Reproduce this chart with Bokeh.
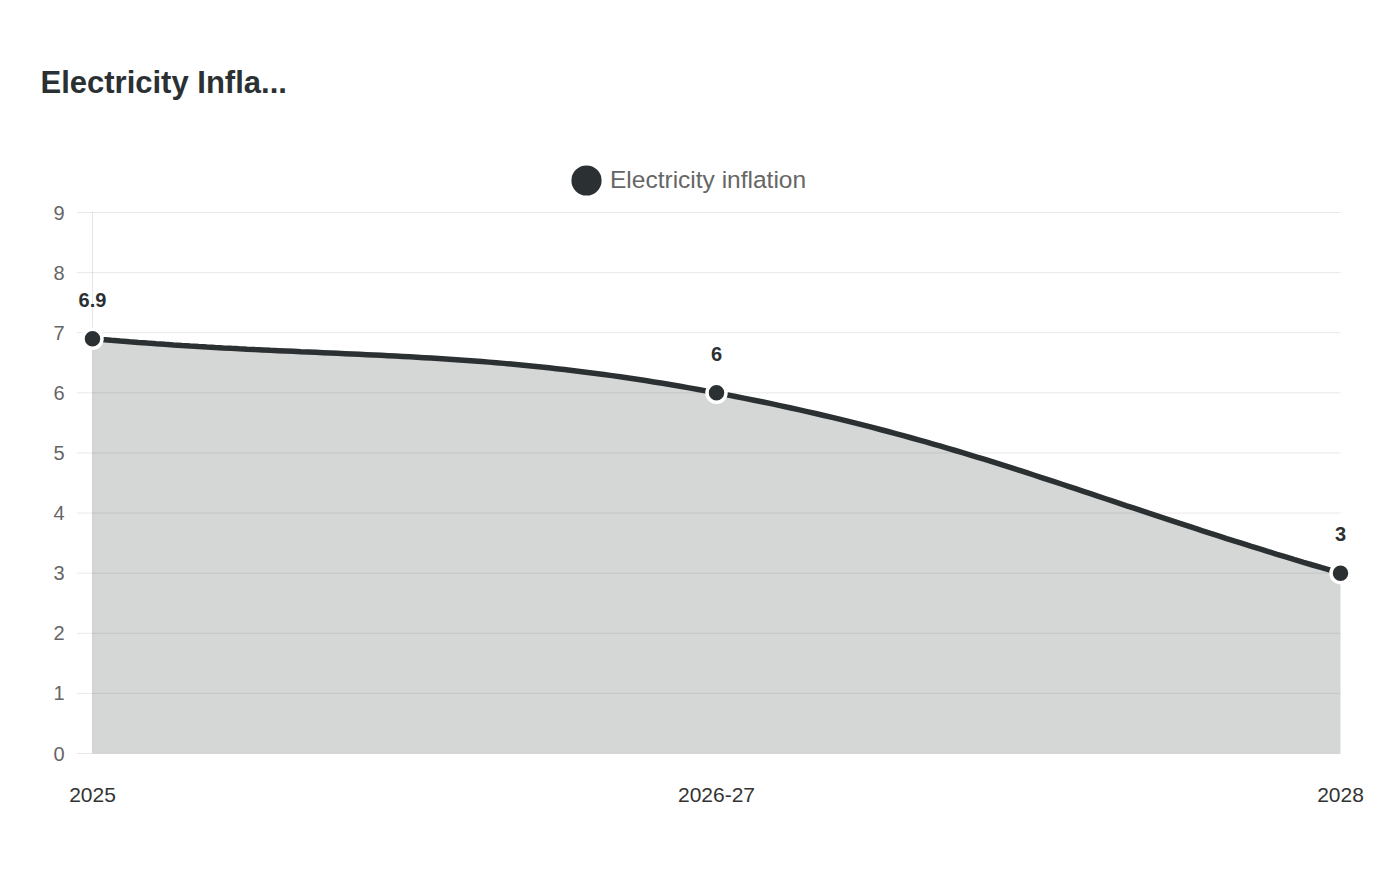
import numpy as np
from bokeh.plotting import figure
from bokeh.models import Range1d, FixedTicker, Legend, LegendItem
from bokeh.embed import file_html
from bokeh.resources import INLINE
from bokeh.core.properties import value

# ---- data ----
title_text = "Electricity Infla..."
series_name = "Electricity inflation"
categories = ["2025", "2026-27", "2028"]
values = [6.9, 6.0, 3.0]
value_labels = ["6.9", "6", "3"]
y_ticks = [0, 1, 2, 3, 4, 5, 6, 7, 8, 9]

# ---- style / layout ----
FONT = "Liberation Sans"
DARK = "#2b3033"
W, H = 1396, 876
X0_PX, X2_PX = 92, 1340      # px of first / last category
Y9_PX, Y0_PX = 212, 753      # px of y=9 / y=0
FRAME_L, FRAME_R, FRAME_T, FRAME_B = 76, 1352, 135, 755
TENSION = 0.4

xs = list(range(len(categories)))
x_last = xs[-1]
y_top = y_ticks[-1]
PX_X = (X2_PX - X0_PX) / x_last
PX_Y = (Y0_PX - Y9_PX) / y_top

p = figure(
    width=W, height=H, output_backend="svg", toolbar_location=None,
    x_range=Range1d(-(X0_PX - FRAME_L) / PX_X, x_last + (FRAME_R - X2_PX) / PX_X),
    y_range=Range1d(-(FRAME_B - Y0_PX) / PX_Y, y_top + (Y9_PX - FRAME_T) / PX_Y),
    min_border_left=FRAME_L, min_border_right=W - FRAME_R,
    min_border_top=FRAME_T, min_border_bottom=H - FRAME_B,
)
p.outline_line_color = None
p.xgrid.visible = False
p.ygrid.visible = False
p.background_fill_color = "white"
p.border_fill_color = "white"

# grid lines (drawn under the area fill)
x_start = p.x_range.start
p.segment(x0=[x_start] * len(y_ticks), y0=y_ticks, x1=[x_last] * len(y_ticks), y1=y_ticks,
          line_color="black", line_alpha=0.09, line_width=1)
# left border line of the chart area
p.segment(x0=[xs[0]], y0=[y_ticks[0]], x1=[xs[0]], y1=[y_top],
          line_color="black", line_alpha=0.1, line_width=1)

# smooth curve (Chart.js style bezier, tension 0.4)
px = np.array(xs, float) * PX_X
py = np.array(values, float) * PX_Y
n = len(xs)
cp_prev, cp_next = [], []
for i in range(n):
    a = i - 1 if i > 0 else i
    b = i + 1 if i < n - 1 else i
    d01 = np.hypot(px[i] - px[a], py[i] - py[a])
    d12 = np.hypot(px[b] - px[i], py[b] - py[i])
    s = d01 + d12
    s01 = d01 / s if s else 0.0
    s12 = d12 / s if s else 0.0
    fa, fb = TENSION * s01, TENSION * s12
    cp_prev.append((px[i] - fa * (px[b] - px[a]), py[i] - fa * (py[b] - py[a])))
    cp_next.append((px[i] + fb * (px[b] - px[a]), py[i] + fb * (py[b] - py[a])))

cx, cy = [], []
t = np.linspace(0, 1, 80)
for i in range(n - 1):
    P0 = (px[i], py[i]); C1 = cp_next[i]; C2 = cp_prev[i + 1]; P3 = (px[i + 1], py[i + 1])
    bx = (1 - t) ** 3 * P0[0] + 3 * (1 - t) ** 2 * t * C1[0] + 3 * (1 - t) * t ** 2 * C2[0] + t ** 3 * P3[0]
    by = (1 - t) ** 3 * P0[1] + 3 * (1 - t) ** 2 * t * C1[1] + 3 * (1 - t) * t ** 2 * C2[1] + t ** 3 * P3[1]
    if i > 0:
        bx, by = bx[1:], by[1:]
    cx.extend(bx / PX_X)
    cy.extend(by / PX_Y)

p.varea(x=cx, y1=[0] * len(cx), y2=cy, fill_color=DARK, fill_alpha=0.2)
p.line(x=cx, y=cy, line_color=DARK, line_width=5.5)
p.scatter(x=xs, y=values, size=19, fill_color=DARK, line_color="white", line_width=3.5)
# legend-only marker (not drawn in the chart; thick own-colour outline enlarges the legend dot)
legend_marker = p.scatter(x=xs, y=values, size=19, fill_color=DARK, line_color=DARK,
                          line_width=11, visible=False)

p.text(x=xs, y=values, text=value_labels, y_offset=-39, text_align="center", text_baseline="middle",
       text_font=value(FONT), text_font_size="20px", text_font_style="bold", text_color=DARK)

# axes
p.yaxis.ticker = FixedTicker(ticks=y_ticks)
p.yaxis.axis_line_color = None
p.yaxis.major_tick_line_color = None
p.yaxis.minor_tick_line_color = None
p.yaxis.major_tick_out = 0
p.yaxis.major_label_standoff = 12
p.yaxis.major_label_text_font = FONT
p.yaxis.major_label_text_font_size = "20px"
p.yaxis.major_label_text_color = "#666666"

p.xaxis.ticker = FixedTicker(ticks=xs)
p.xaxis.major_label_overrides = {x: c for x, c in zip(xs, categories)}
p.xaxis.axis_line_color = None
p.xaxis.major_tick_line_color = None
p.xaxis.minor_tick_line_color = None
p.xaxis.major_tick_out = 0
p.xaxis.major_label_standoff = 32
p.xaxis.major_label_text_font = FONT
p.xaxis.major_label_text_font_size = "21px"
p.xaxis.major_label_text_color = "#333333"

# legend (inside the extended frame, above the y=9 line)
LEG_BOX = 48
legend = Legend(items=[LegendItem(label=series_name, renderers=[legend_marker])],
                location=(586 - LEG_BOX / 2 - FRAME_L, FRAME_B - (180 + LEG_BOX / 2)),
                glyph_width=LEG_BOX, glyph_height=LEG_BOX, label_standoff=0,
                padding=0, margin=0, spacing=0, border_line_color=None, background_fill_alpha=0,
                label_text_font=FONT, label_text_font_size="24.5px", label_text_color="#666666")
p.add_layout(legend)

# title
p.title.text = title_text
p.title.align = "left"
p.title.offset = -36
p.title.standoff = 72
p.title.text_font = FONT
p.title.text_font_size = "31px"
p.title.text_font_style = "bold"
p.title.text_color = DARK

open("out.html", "w").write(file_html(p, INLINE))
